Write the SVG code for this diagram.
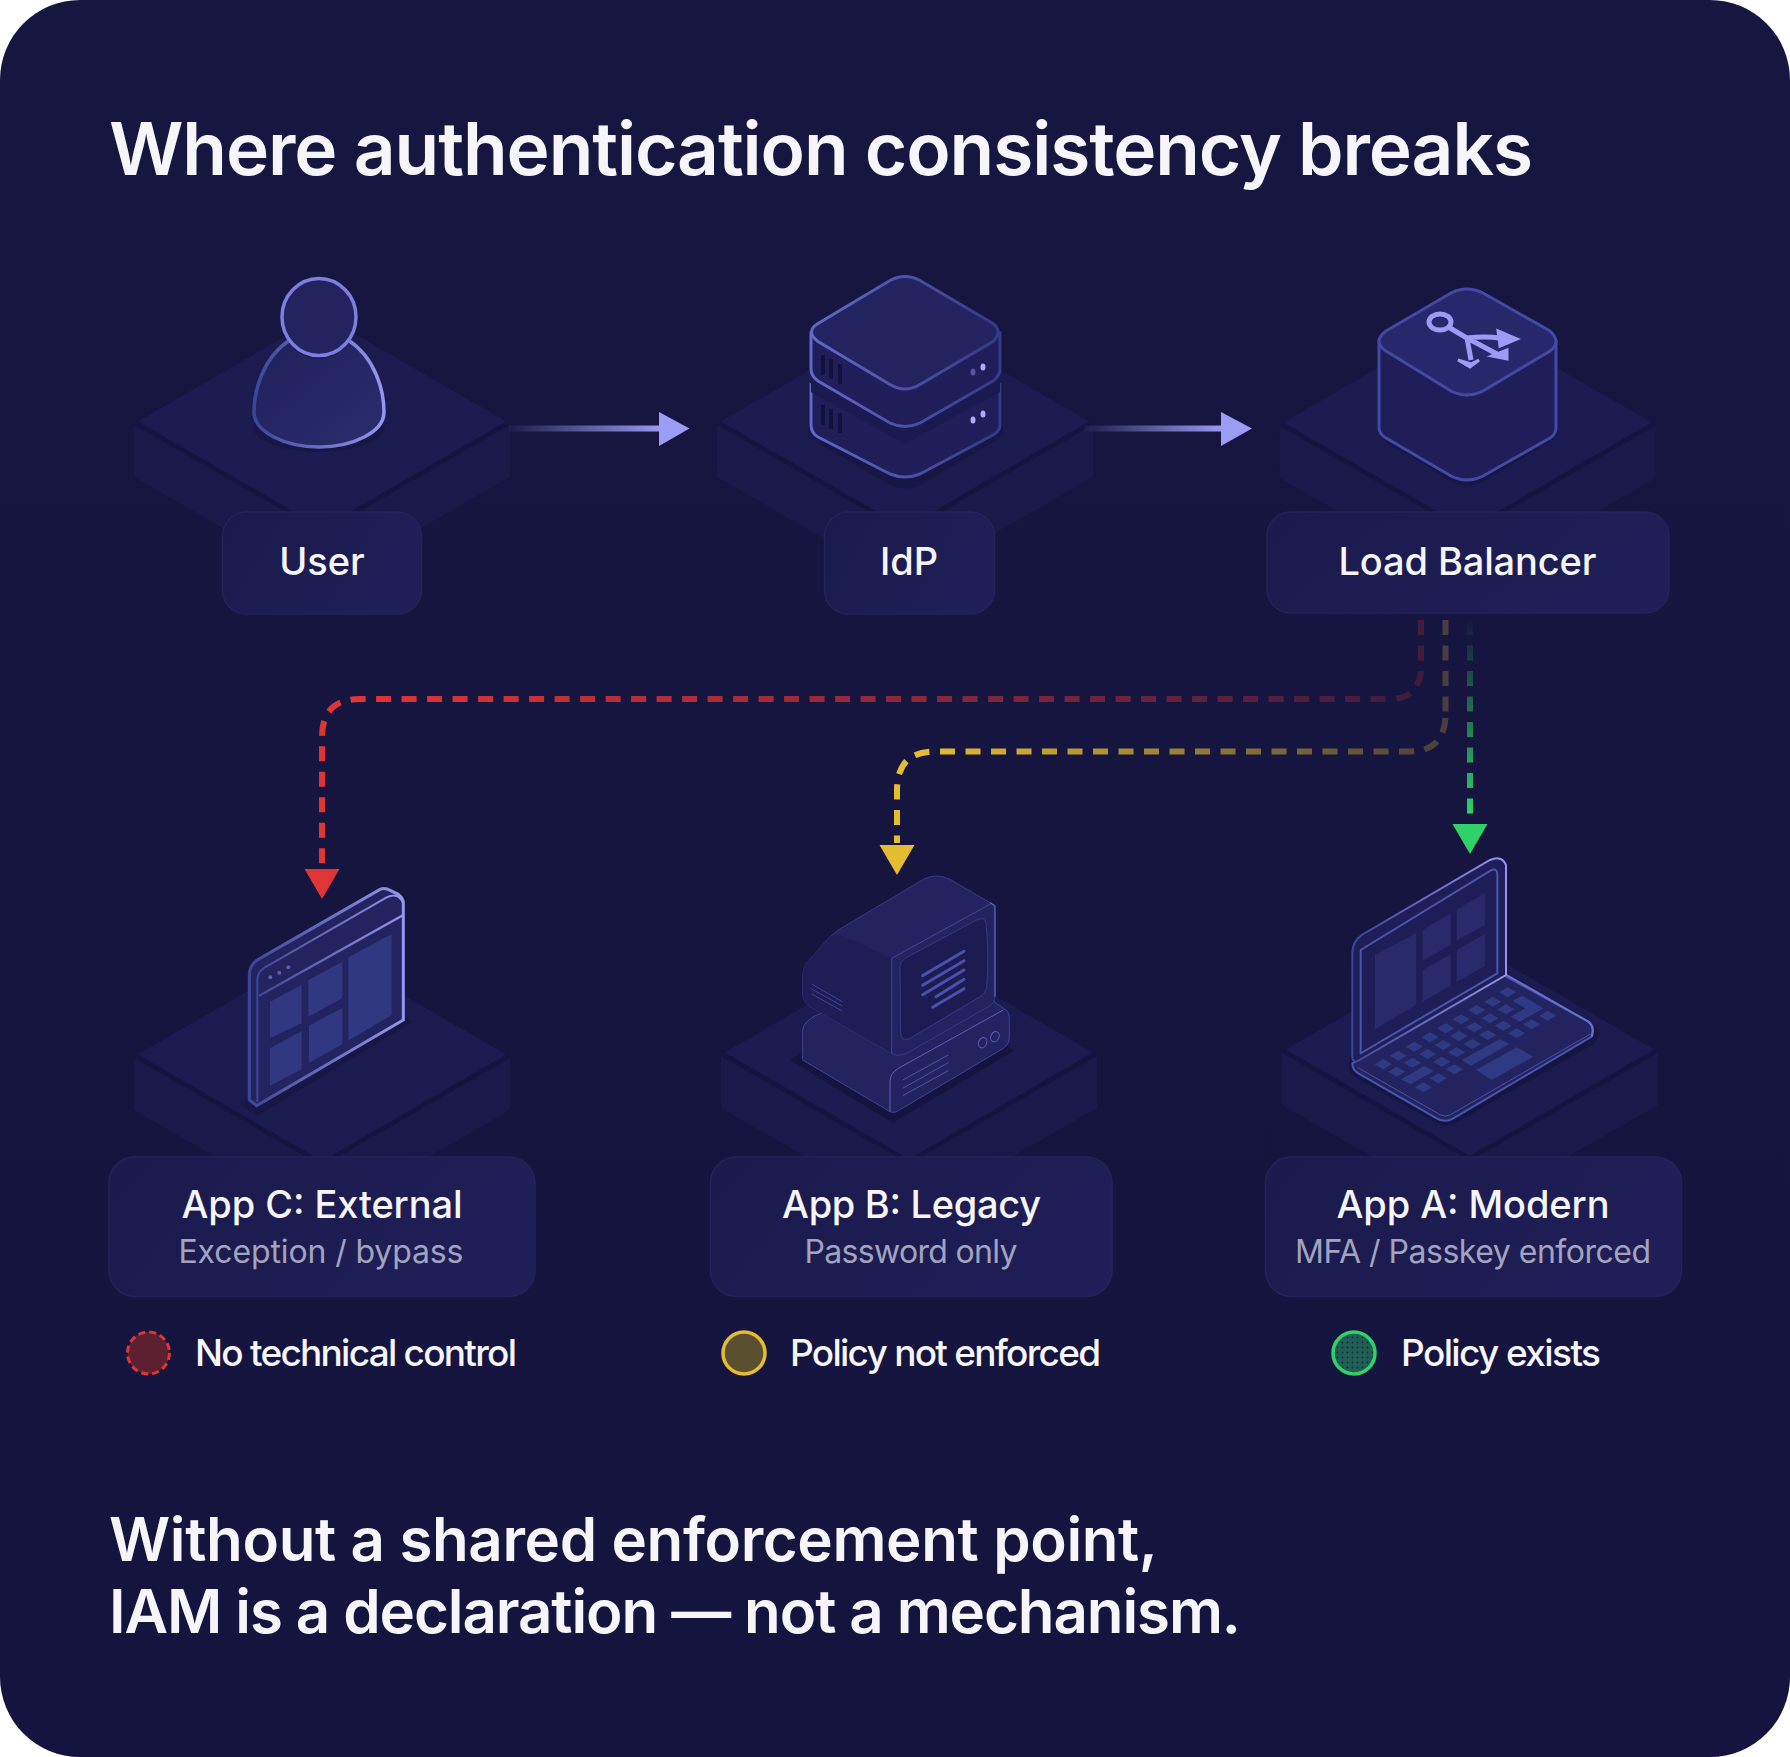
<svg xmlns="http://www.w3.org/2000/svg" width="1790" height="1757" viewBox="0 0 1790 1757">
<style>
text{font-family:"Inter","Liberation Sans",sans-serif}
.title{font-size:73px;font-weight:600;fill:#f5f5fa}
.foot{font-size:60px;font-weight:600;fill:#f5f5fa}
.name{font-size:38px;font-weight:500;fill:#f5f5fa;text-anchor:middle}
.sub{font-size:32px;font-weight:400;fill:#a3a3bf;text-anchor:middle}
.leg{font-size:37px;font-weight:500;fill:#f5f5fa}
.box{fill:url(#boxG);stroke:#232358;stroke-width:1.5}
.ptop{fill:#1c1b50}
.pside{fill:#1a1949}
.pline{fill:none;stroke:#151440;stroke-width:3.5}
.dash{fill:none;stroke-width:6;stroke-dasharray:15 10.5}
</style>
<defs>
<linearGradient id="bg" x1="0" y1="0" x2="0" y2="1"><stop offset="0" stop-color="#171641"/><stop offset="1" stop-color="#15143f"/></linearGradient>
<linearGradient id="boxG" x1="0" y1="0" x2="1" y2="0.3"><stop offset="0" stop-color="#1a1a4c"/><stop offset="1" stop-color="#1f1e56"/></linearGradient>
<linearGradient id="flow1" gradientUnits="userSpaceOnUse" x1="509" y1="0" x2="665" y2="0"><stop offset="0" stop-color="#9c9cf5" stop-opacity=".05"/><stop offset="1" stop-color="#9c9cf5"/></linearGradient>
<linearGradient id="flow2" gradientUnits="userSpaceOnUse" x1="1084" y1="0" x2="1225" y2="0"><stop offset="0" stop-color="#9c9cf5" stop-opacity=".05"/><stop offset="1" stop-color="#9c9cf5"/></linearGradient>
<linearGradient id="redG" gradientUnits="userSpaceOnUse" x1="1421" y1="0" x2="360" y2="0"><stop offset="0" stop-color="#e03535" stop-opacity=".2"/><stop offset="1" stop-color="#e03535"/></linearGradient>
<linearGradient id="yelG" gradientUnits="userSpaceOnUse" x1="1445" y1="0" x2="930" y2="0"><stop offset="0" stop-color="#e3bc30" stop-opacity=".25"/><stop offset="1" stop-color="#e3bc30"/></linearGradient>
<linearGradient id="grnG" gradientUnits="userSpaceOnUse" x1="0" y1="620" x2="0" y2="815"><stop offset="0" stop-color="#2ed266" stop-opacity="0"/><stop offset="1" stop-color="#2ed266"/></linearGradient>
<linearGradient id="iconS" x1="0" y1="0" x2="1" y2="0"><stop offset="0" stop-color="#3d4596"/><stop offset="1" stop-color="#9696ee"/></linearGradient>
<linearGradient id="iconR" x1="0" y1="0" x2="1" y2="0"><stop offset="0" stop-color="#6268c8"/><stop offset="1" stop-color="#343a88"/></linearGradient>
<linearGradient id="iconF" x1="0" y1="0" x2="1" y2="1"><stop offset="0" stop-color="#20205a"/><stop offset="1" stop-color="#2a2c6e"/></linearGradient>
<pattern id="dots" width="5" height="5" patternUnits="userSpaceOnUse"><rect width="5" height="5" fill="#1f5f54"/><circle cx="2.500" cy="2.500" r=".9" fill="#13263f"/></pattern>
<polygon id="key" points="-26,0 0,-15 26,0 0,15" fill="#2e3a84"/>
<g id="plat">
<polygon class="pside" points="-188,3 -188,55 0,163 188,55 188,3 0,111"/>
<polygon class="ptop" points="-185,0 0,-107 185,0 0,107"/>
<path class="pline" d="M-185,1 L0,108 L185,1"/>
</g>
</defs>
<rect width="1790" height="1757" rx="80" fill="url(#bg)"/>
<text class="title" x="109" y="175" textLength="1424">Where authentication consistency breaks</text>

<g id="node-user">
<use href="#plat" x="322" y="422"/>
<ellipse cx="319" cy="427" rx="66" ry="25" fill="#15143e" opacity=".6"/>
<path d="M290,340 C262,358 254,392 254,412 C254,432 285,447 319,447 C353,447 384,432 384,412 C384,392 376,358 348,340 Z" fill="url(#iconF)" stroke="url(#iconS)" stroke-width="3.5"/>
<ellipse cx="319" cy="322" rx="36" ry="37" fill="#16153f" opacity=".5"/>
<ellipse cx="319" cy="317" rx="37" ry="38.5" fill="#23245f" stroke="#7d7ee0" stroke-width="3.5"/>
<rect class="box" x="222.500" y="512" width="199" height="102" rx="24"/>
<text class="name" x="322" y="575">User</text>
</g>

<g id="node-idp">
<use href="#plat" x="905" y="422"/>
<path d="M808,384 L808,432 Q809,436 815,441 L890,485 Q905,492 920,485 L995,441 Q1003,436 1003,432 L1003,384 Z" fill="#15143e" opacity=".7"/>
<path d="M811,385 L811,425 Q811,433 818,437 L890,474 Q905,480 920,474 L993,435 Q1000,431 1000,425 L1000,385 L905,440 Z" fill="#1f1e58" stroke="url(#iconR)" stroke-width="3"/>
<path d="M811,378 L890,424 Q905,431 920,424 L1000,378 L1000,392 L905,444 L811,392 Z" fill="#1a1950"/>
<path d="M811,333 L811,369 Q811,376 818,381 L890,423 Q905,430 920,423 L993,381 Q1000,376 1000,369 L1000,333 Z" fill="#1f1e58" stroke="url(#iconR)" stroke-width="3"/>
<path d="M818,323.500 L890,280.500 Q905,272.500 920,280.500 L993,323.500 Q1003,331.500 993,341.500 L920,384.500 Q905,393.500 890,384.500 L818,341.500 Q805,331.500 818,323.500 Z" fill="#22235f" stroke="url(#iconR)" stroke-width="3"/>
<path d="M823,355 V375 M831,359 V379 M840,364 V384 M823,405 V425 M831,409 V429 M840,413 V433" stroke="#12113a" stroke-width="4"/>
<ellipse cx="973" cy="372" rx="2.500" ry="3.500" fill="#56569c"/><ellipse cx="983" cy="367" rx="2.500" ry="3.500" fill="#aaaaff"/>
<ellipse cx="973" cy="420" rx="2.500" ry="3.500" fill="#aaaaff"/><ellipse cx="983" cy="414" rx="2.500" ry="3.500" fill="#aaaaff"/>
<rect class="box" x="824.500" y="512" width="170" height="102" rx="24"/>
<text class="name" x="909" y="575">IdP</text>
</g>

<g id="node-lb">
<use href="#plat" x="1467.500" y="423"/>
<path d="M1378,430 Q1378,437 1385,441 L1450,481 Q1467,490 1484,481 L1551,441 Q1558,437 1558,430 L1558,345 L1378,345 Z" fill="#15143e" opacity=".6"/>
<path d="M1379,342 L1379,428 Q1379,434 1386,438 L1451,476 Q1467,484 1483,476 L1550,438 Q1556,434 1556,428 L1556,342 L1467,395 Z" fill="#1f1e58" stroke="#434aa6" stroke-width="3"/>
<path d="M1386,331 L1451,293 Q1467,285 1483,293 L1550,331 Q1562,342 1550,351 L1483,391 Q1467,399 1451,391 L1386,351 Q1372,342 1386,331 Z" fill="#26286b" stroke="#434aa6" stroke-width="3"/>
<g fill="none" stroke="#9c9cf5" stroke-width="5">
<ellipse cx="1440" cy="322" rx="11" ry="8"/>
<path d="M1450,328 L1467,338 L1471,360 M1467,338 Q1485,336 1500,338 M1467,338 L1497,354"/>
</g>
<path d="M1458,360 L1470,367 L1479,360 L1471,364 Z M1498,331 L1517,339 L1500,346 Z M1492,356 L1507,350 L1507,359 Z" fill="#9c9cf5" stroke="#9c9cf5" stroke-width="3"/>
<rect class="box" x="1267" y="512" width="402" height="101" rx="24"/>
<text class="name" x="1467.500" y="575" textLength="258">Load Balancer</text>
</g>

<g id="node-appc" >
<use href="#plat" x="322" y="1055"/>
<polygon points="240,1104 257,1116 412,1022 395,1014" fill="#15143e" opacity=".7"/>
<g transform="translate(120,860) scale(.33333)">
<path d="M388,720 L388,345 Q388,315 415,298 L780,88 Q795,82 812,92 L835,103 Q850,115 850,130 L850,480 L410,737 Z" fill="#22235f" stroke="url(#iconS)" stroke-width="9"/>
<path d="M412,725 V360 Q412,335 435,322 L800,112 Q835,95 850,130" fill="none" stroke="url(#iconS)" stroke-width="6"/>
<path d="M416,408 L850,165" fill="none" stroke="url(#iconS)" stroke-width="7"/>
<g fill="#2f3880">
<polygon points="450,425 545,375 545,490 450,535"/><polygon points="450,565 545,513 545,628 450,677"/>
<polygon points="565,360 667,305 667,415 565,470"/><polygon points="567,497 667,443 667,553 567,608"/>
<polygon points="685,292 815,222 815,465 685,542"/>
</g>
<g fill="#5a5ea8"><circle cx="451" cy="352" r="6"/><circle cx="478" cy="338" r="6"/><circle cx="505" cy="322" r="6"/></g>
</g>
<rect class="box" x="109" y="1157" width="426" height="139.500" rx="26"/>
<text class="name" x="322" y="1218" textLength="281">App C: External</text>
<text class="sub" x="321" y="1263" textLength="285">Exception / bypass</text>
</g>

<g id="node-appb">
<use href="#plat" x="909" y="1053"/>
<g transform="translate(710,840) scale(.33333)">
<polygon points="240,660 548,848 912,632 860,590 300,620" fill="#14133a" opacity=".8"/>
<path d="M278,570 Q280,545 320,525 L345,515 L850,483 L880,505 Q898,512 898,535 L898,590 Q898,612 880,625 L565,812 Q550,822 535,812 L278,660 Z" fill="#22235f" stroke="#3d4596" stroke-width="3"/>
<path d="M540,815 V725 Q540,700 565,685 L880,510" fill="none" stroke="#5a60c0" stroke-width="3"/>
<path d="M578,720 L715,645 M578,745 L715,668 M578,767 L715,692" stroke="#4a50ac" stroke-width="3"/>
<ellipse cx="818" cy="608" rx="12" ry="16" fill="none" stroke="#5a60c0" stroke-width="3" transform="rotate(25 818 608)"/>
<ellipse cx="855" cy="590" rx="12" ry="16" fill="none" stroke="#5a60c0" stroke-width="3" transform="rotate(25 855 590)"/>
<path d="M385,270 L640,118 Q680,98 720,118 L840,188 Q855,197 855,215 L855,470 Q855,490 835,500 L590,640 Q565,652 545,640 L300,500 Q280,490 278,460 L278,410 Q278,385 290,370 L355,295 Z" fill="#23245f" stroke="#343a88" stroke-width="3"/>
<path d="M545,355 L400,287 Q375,275 355,295 L290,370 Q278,385 278,410 L278,460 Q280,490 300,500 L545,640 Z" fill="#1e1d55"/>
<path d="M545,640 L545,355 L845,190" fill="none" stroke="#3f4598" stroke-width="3"/>
<path d="M840,188 L855,197 V470" fill="none" stroke="#6a70d0" stroke-width="3"/>
<path d="M570,380 Q570,365 585,355 L800,240 Q825,228 828,250 Q838,340 830,440 Q828,460 810,470 L600,595 Q572,608 572,575 Z" fill="#1d1c52" stroke="#343a88" stroke-width="3"/>
<path d="M638,407 L762,334 M638,436 L762,362 M638,464 L762,390 M678,470 L762,418 M668,502 L762,446" stroke="#4a50ac" stroke-width="9" stroke-linecap="round"/>
<path d="M305,432 L397,485 M305,447 L397,498 M305,462 L397,513" stroke="#3d4596" stroke-width="3"/>
</g>
<rect class="box" x="710.500" y="1157" width="401.500" height="139.500" rx="26"/>
<text class="name" x="911.500" y="1218" textLength="259">App B: Legacy</text>
<text class="sub" x="911" y="1263" textLength="213">Password only</text>
</g>

<g id="node-appa">
<use href="#plat" x="1470" y="1050"/>
<g transform="translate(1270,840) scale(.33333)">
<path d="M235,680 Q240,705 270,720 L500,850 Q525,865 555,850 L970,612 Q990,595 985,570 L710,400 L240,650 Z" fill="#14133a" opacity=".7"/>
<path d="M247,670 L700,405 L955,545 Q975,560 965,590 L550,835 Q525,850 500,835 L265,700 Q247,690 247,670 Z" fill="#23245f" stroke="#4a55b0" stroke-width="6"/>
<path d="M262,682 L512,825 Q525,832 540,825 L965,580" fill="none" stroke="#4a50ac" stroke-width="3"/>
<path d="M710,405 L955,545 Q975,560 965,590" fill="none" stroke="#6a70d0" stroke-width="6"/>
<path d="M247,340 Q247,305 275,285 L660,60 Q695,45 708,75 L708,405 L265,662 Q247,670 247,650 Z" fill="#1f1e58" stroke="url(#iconS)" stroke-width="6"/>
<path d="M272,330 L665,90 Q680,85 682,100 L682,400 L272,640 Z" fill="#1e1d55" stroke="#4a55b0" stroke-width="6"/>
<g fill="#282a6c">
<polygon points="315,345 438,280 438,495 315,568"/>
<polygon points="458,270 542,220 542,315 458,362"/><polygon points="458,390 542,342 542,437 458,485"/>
<polygon points="560,208 645,160 645,255 560,302"/><polygon points="560,330 645,282 645,378 560,425"/>
</g>
<g>
<use href="#key" x="340" y="673"/><use href="#key" x="380" y="695"/><use href="#key" x="427" y="668"/><use href="#key" x="385" y="647"/><use href="#key" x="433" y="620"/><use href="#key" x="473" y="642"/><use href="#key" x="515" y="665"/><use href="#key" x="480" y="592"/><use href="#key" x="520" y="615"/><use href="#key" x="560" y="637"/><use href="#key" x="527" y="565"/><use href="#key" x="567" y="588"/><use href="#key" x="607" y="612"/><use href="#key" x="573" y="538"/><use href="#key" x="613" y="562"/><use href="#key" x="653" y="585"/><use href="#key" x="620" y="510"/><use href="#key" x="660" y="535"/><use href="#key" x="700" y="557"/><use href="#key" x="668" y="485"/><use href="#key" x="708" y="508"/><use href="#key" x="740" y="580"/><use href="#key" x="713" y="457"/><use href="#key" x="785" y="553"/><use href="#key" x="833" y="527"/><use href="#key" x="553" y="688"/><use href="#key" x="505" y="715"/><use href="#key" x="460" y="742"/>
<polygon fill="#2e3a84" points="575,660 690,597 718,612 603,677"/>
<polygon fill="#2e3a84" points="618,690 740,622 790,650 665,720"/>
<polygon fill="#2e3a84" points="393,718 463,678 492,693 422,733"/>
<polygon fill="#2e3a84" points="728,482 757,467 820,505 750,545 722,530 765,505"/>
</g>
</g>
<rect class="box" x="1265.500" y="1157" width="416" height="139.500" rx="26"/>
<text class="name" x="1473" y="1218" textLength="273">App A: Modern</text>
<text class="sub" x="1473" y="1263" textLength="356">MFA / Passkey enforced</text>
</g>

<g id="connectors">
<line x1="509" y1="428.500" x2="661" y2="428.500" stroke="url(#flow1)" stroke-width="6"/>
<polygon points="659,412 689.500,428.500 659,446" fill="#9c9cf5"/>
<line x1="1084" y1="428.500" x2="1223" y2="428.500" stroke="url(#flow2)" stroke-width="6"/>
<polygon points="1221,412 1252,428.500 1221,446" fill="#9c9cf5"/>
<path class="dash" stroke="#e03535" stroke-opacity=".22" d="M1421,620 V665"/>
<path class="dash" stroke="url(#redG)" d="M1421,671 Q1418,699 1390,699 H360 Q322,699 322,737 V866"/>
<polygon points="304.500,869 339.500,869 322,899" fill="#e03535"/>
<path class="dash" stroke="#e3bc30" stroke-opacity=".25" d="M1445.500,620 V715"/>
<path class="dash" stroke="url(#yelG)" d="M1445.500,718 Q1443,751.500 1410,751.500 H935 Q897,751.500 897,790 V843"/>
<polygon points="879.500,845 914.500,845 897,875" fill="#e3bc30"/>
<path class="dash" stroke="url(#grnG)" d="M1470,620 V822"/>
<polygon points="1452.500,824 1487.500,824 1470,854" fill="#2ed266"/>
</g>

<g id="legend">
<circle cx="148.500" cy="1353" r="21" fill="#5c2030" stroke="#e03535" stroke-width="3" stroke-dasharray="7 4"/>
<text class="leg" x="195" y="1366" textLength="322">No technical control</text>
<circle cx="744" cy="1353" r="21" fill="#5a4f2e" stroke="#e3bc30" stroke-width="3.500"/>
<text class="leg" x="790" y="1366" textLength="311">Policy not enforced</text>
<circle cx="1354" cy="1353" r="21" fill="url(#dots)" stroke="#2ed266" stroke-width="3.500"/>
<text class="leg" x="1401" y="1366" textLength="200">Policy exists</text>
</g>

<text class="foot" x="109" y="1561" textLength="1049">Without a shared enforcement point,</text>
<text class="foot" x="109" y="1633" textLength="1132">IAM is a declaration — not a mechanism.</text>
</svg>
